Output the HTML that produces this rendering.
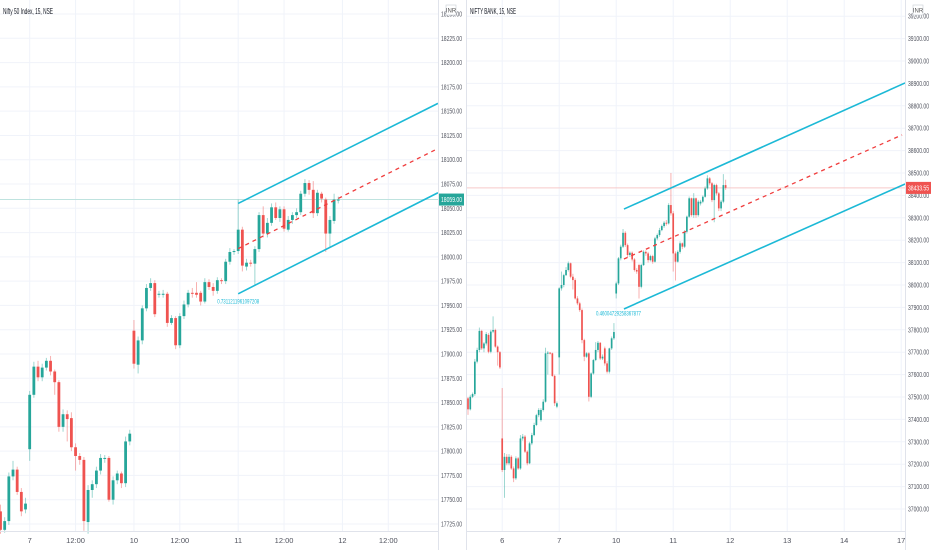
<!DOCTYPE html>
<html><head><meta charset="utf-8">
<style>
html,body{margin:0;padding:0;background:#fff;}
svg{display:block;font-family:"Liberation Sans Narrow","Liberation Sans",sans-serif;}
</style></head>
<body>
<svg id="c" width="932" height="550" viewBox="0 0 932 550" xmlns="http://www.w3.org/2000/svg">
<rect x="0" y="0" width="932" height="550" fill="#ffffff"/>
<g id="grid"></g>
<g id="marks"></g>
<g id="axes"></g>
<text x="3" y="14" font-size="8" fill="#131722" textLength="50" lengthAdjust="spacingAndGlyphs">Nifty 50 Index, 15, NSE</text>
<text x="470" y="14" font-size="8" fill="#131722" textLength="46" lengthAdjust="spacingAndGlyphs">NIFTY BANK, 15, NSE</text>
<g><rect x="446" y="5" width="10" height="10" fill="#fff" stroke="#c9ccd3" stroke-width="0.6"/><text x="451" y="12.5" font-size="6" text-anchor="middle" fill="#555">INR</text></g>
<g><rect x="913" y="5" width="10" height="10" fill="#fff" stroke="#c9ccd3" stroke-width="0.6"/><text x="918" y="12.5" font-size="6" text-anchor="middle" fill="#555">INR</text></g>
</svg>
<script>
// ---- Left chart: Nifty 50 ----
const leftOpens=[17738,17719,17728,17774,17781,17758,17740,17802,17858,17887,17876,17886,17893,17882,17871,17825,17838,17834,17804,17795,17791,17727,17760,17766,17780,17792,17793,17750,17770,17777,17767,17810,17924,17889,17914,17947,17968,17973,17961,17961,17962,17932,17937,17909,17939,17951,17963,17963,17963,17954,17974,17969,17965,17976,17975,17995,18005,18006,18028,17990,17994,17993,18008,18043,18024,18035,18051,18040,18049,18028,18038,18043,18046,18065,18076,18069,18045,18065,18059,18024,18037,18059];
const leftCloses=[17719,17728,17774,17781,17758,17738,17746,17858,17887,17876,17886,17893,17882,17871,17825,17838,17833,17804,17795,17791,17728,17760,17766,17780,17793,17793,17750,17770,17777,17767,17810,17818,17890,17914,17947,17968,17973,17941,17962,17962,17932,17937,17909,17939,17951,17963,17962,17961,17954,17974,17969,17965,17976,17975,17995,18005,18006,18028,17991,17994,17993,18008,18043,18024,18035,18051,18040,18049,18029,18038,18043,18046,18065,18076,18069,18045,18066,18060,18024,18038,18059,18059];
const leftHighs=[17745,17732,17778,17790,17784,17762,17752,17862,17892,17893,17890,17896,17898,17884,17873,17843,17842,17840,17808,17798,17794,17765,17770,17784,17797,17796,17795,17774,17780,17779,17815,17822,17935,17918,17950,17972,17978,17976,17965,17966,17964,17940,17939,17942,17955,17966,17968,17974,17965,17978,17977,17973,17979,17978,17998,18009,18008,18059,18031,17998,17997,18011,18046,18052,18040,18055,18056,18052,18052,18042,18046,18050,18068,18080,18079,18078,18069,18067,18061,18042,18065,18062];
const leftLows=[17715,17716,17724,17770,17755,17733,17736,17790,17855,17872,17872,17883,17878,17858,17820,17820,17810,17800,17780,17786,17718,17715,17752,17762,17776,17788,17748,17745,17766,17762,17763,17806,17885,17880,17910,17944,17965,17938,17958,17958,17928,17930,17905,17906,17936,17948,17958,17958,17950,17952,17966,17960,17962,17972,17972,17992,18002,18003,17985,17986,17990,17970,18005,18020,18020,18032,18038,18036,18026,18026,18034,18040,18043,18062,18064,18040,18042,18056,18005,18010,18034,18055];
const leftPriceTicks=[17725,17750,17775,17800,17825,17850,17875,17900,17925,17950,17975,18000,18025,18050,18075,18100,18125,18150,18175,18200,18225,18250];
const leftTimeLabels=["7","12:00","10","12:00","11","12:00","12","12:00"];
const leftTimeIdx=[7,18,32,43,57,68,82,93];
const leftLastPrice=18059;
const leftChannelIdx=[57,104.9];
const leftChannelUpper=[18055,18158];
const leftChannelLower=[17962,18066];
const leftChannelMid=[18008.5,18110];

// ---- Right chart: Nifty Bank ----
const rightOpens=[37494,37445,37501,37513,37658,37710,37795,37717,37739,37777,37702,37792,37799,37725,37700,37315,37174,37233,37204,37233,37181,37137,37226,37181,37315,37323,37256,37204,37293,37330,37375,37419,37397,37442,37479,37695,37698,37695,37594,37457,37677,37985,38000,38044,38067,38097,38037,38022,37940,37918,37888,37754,37680,37695,37501,37605,37665,37710,37742,37672,37717,37650,37613,37717,37762,37962,38007,38119,38171,38233,38178,38134,38144,38114,38067,38089,37992,38089,38148,38141,38111,38129,38104,38208,38223,38245,38263,38278,38275,38357,38320,38141,38104,38148,38186,38171,38238,38305,38387,38312,38387,38312,38364,38372,38394,38431,38476,38454,38379,38446,38409,38342,38372,38446];
const rightCloses=[37445,37501,37513,37658,37710,37795,37717,37739,37781,37702,37792,37799,37725,37700,37632,37174,37233,37204,37233,37181,37137,37226,37181,37315,37323,37256,37204,37293,37330,37375,37419,37442,37442,37479,37695,37698,37695,37594,37472,37472,37985,38000,38044,38067,38097,38037,38022,37940,37918,37888,37754,37680,37695,37501,37605,37665,37710,37742,37672,37680,37650,37613,37717,37762,37790,38007,38119,38171,38233,38178,38134,38144,38114,38067,38060,37992,38089,38148,38141,38111,38129,38104,38208,38223,38245,38263,38278,38275,38357,38320,38141,38104,38148,38186,38171,38238,38305,38387,38312,38387,38312,38372,38372,38394,38431,38476,38454,38379,38446,38409,38342,38372,38446,38434];
const rightHighs=[37500,37510,37520,37670,37720,37810,37800,37745,37790,37785,37800,37860,37805,37730,37705,37540,37250,37245,37245,37240,37190,37235,37232,37330,37335,37330,37262,37300,37340,37385,37425,37450,37450,37490,37720,37705,37700,37698,37600,37480,37990,38060,38050,38080,38105,38100,38050,38030,37950,37925,37895,37760,37700,37700,37610,37670,37745,37750,37745,37690,37725,37660,37720,37770,37830,38015,38125,38180,38250,38240,38185,38150,38150,38120,38075,38095,38095,38155,38155,38148,38135,38135,38215,38230,38255,38270,38285,38290,38365,38500,38330,38150,38155,38195,38190,38245,38310,38395,38390,38410,38390,38380,38380,38400,38440,38490,38482,38460,38452,38452,38415,38380,38495,38470];
const rightLows=[37420,37440,37495,37505,37650,37700,37710,37700,37730,37695,37695,37785,37720,37640,37625,37165,37050,37195,37195,37175,37120,37130,37175,37175,37305,37250,37195,37200,37285,37325,37370,37410,37390,37435,37475,37600,37690,37590,37460,37450,37600,37975,37990,38040,38060,38030,37980,37935,37910,37880,37740,37660,37675,37480,37495,37600,37660,37700,37665,37665,37640,37605,37605,37710,37755,37940,38000,38110,38165,38170,38125,38125,38105,38060,38050,37940,37985,38085,38130,38100,38105,38095,38100,38200,38215,38240,38255,38265,38270,38310,38060,38020,38100,38140,38160,38165,38230,38300,38305,38300,38300,38305,38355,38365,38390,38425,38445,38370,38280,38400,38330,38330,38365,38425];
const rightPriceTicks=[37000,37100,37200,37300,37400,37500,37600,37700,37800,37900,38000,38100,38200,38300,38400,38500,38600,38700,38800,38900,39000,39100,39200];
const rightTimeLabels=["6","7","10","11","12","13","14","17"];
const rightTimeIdx=[15,40,65,90,115,140,165,190];
const rightLastPrice=38433.55;
const rightChannelIdx=[68.4,191.7];
const rightChannelUpper=[38339,38902];
const rightChannelLower=[37893,38451];
const rightChannelMid=[38116,38670];

// ---- scales ----
const xL=i=>0.5+i*4.17, yL=p=>524-(p-17725)*0.9714;
const xR=i=>468+i*2.28, yR=p=>173+(38500-p)*0.224;
const NS="http://www.w3.org/2000/svg";
function mk(tag,attrs,parent){const e=document.createElementNS(NS,tag);for(const k in attrs)e.setAttribute(k,attrs[k]);parent.appendChild(e);return e;}
const grid=document.getElementById('grid'),marks=document.getElementById('marks'),axes=document.getElementById('axes');
const UP="#26a69a",DN="#ef5350";

function panel(side,o,h,l,c,xf,yf,x0,x1,bw,ticks,tLabels,tIdx,last,chIdx,chU,chL,chM,ratioText,ratioIdx,ratioPrice,ratioLen,lastColor,lastLine){
  ticks.forEach(p=>{const g=mk('line',{x1:x0,x2:x1,y1:yf(p),y2:yf(p),stroke:'#f0f3fa','stroke-width':1},grid);
    
    
    const t=mk('text',{x:x1+3,y:yf(p)+2.5,'font-size':7,fill:'#50535e',textLength:21,lengthAdjust:'spacingAndGlyphs'},axes);t.textContent=p.toFixed(2);
    
    });
  tIdx.forEach((ix,k)=>{const xx=xf(ix);if(xx>x1+1)return;const g=mk('line',{x1:xx,x2:xx,y1:0,y2:531,stroke:'#f0f3fa','stroke-width':1},grid);
    
    
    const t=mk('text',{x:xx,y:543,'font-size':7.5,fill:'#50535e','text-anchor':'middle'},axes);t.textContent=tLabels[k];
    
    });
  const ll=mk('line',{x1:x0,x2:x1,y1:yf(last),y2:yf(last),stroke:lastLine,'stroke-width':1},marks);
  
  
  o.forEach((op,i)=>{const cl=c[i],col=cl>=op?UP:DN,xx=xf(i);
    const w=mk('line',{x1:xx,x2:xx,y1:yf(h[i]),y2:yf(l[i]),stroke:col,'stroke-width':1,'stroke-opacity':0.45},marks);
    
    
    const top=yf(Math.max(op,cl)),ht=Math.max(1,Math.abs(yf(op)-yf(cl)));
    const b=mk('rect',{x:xx-bw/2,y:top,width:bw,height:ht,fill:col},marks);
    
    });
  [[chU,'upper'],[chL,'lower']].forEach(([arr,nm])=>{const ln=mk('line',{x1:xf(chIdx[0]),y1:yf(arr[0]),x2:xf(chIdx[1]),y2:yf(arr[1]),stroke:'#1cb9d6','stroke-width':1.6},marks);
    
    });
  const md=mk('line',{x1:xf(chIdx[0]),y1:yf(chM[0]),x2:xf(chIdx[1])-3,y2:yf(chM[1]),stroke:'#f03d3d','stroke-width':1.3,'stroke-dasharray':'4,4'},marks);
  
  
  const rt=mk('text',{x:xf(ratioIdx)-ratioLen/2,y:yf(ratioPrice),'font-size':6.5,fill:'#1cb9d6',textLength:ratioLen,lengthAdjust:'spacingAndGlyphs'},marks);rt.textContent=ratioText;
  
  
  const vb=mk('line',{x1:x1+0.5,x2:x1+0.5,y1:0,y2:550,stroke:'#e0e3eb','stroke-width':1},axes);
  
  
  const hb=mk('line',{x1:x0,x2:x1,y1:531.5,y2:531.5,stroke:'#e0e3eb','stroke-width':1},axes);
  
  
  const g=mk('g',{},axes);
  
  
  mk('rect',{x:x1+1,y:yf(last)-6,width:25,height:12,fill:lastColor},g);
  const tt=mk('text',{x:x1+3,y:yf(last)+2.5,'font-size':7,fill:'#fff',textLength:21,lengthAdjust:'spacingAndGlyphs'},g);tt.textContent=last.toFixed(2);
}
panel('left',leftOpens,leftHighs,leftLows,leftCloses,xL,yL,0,438,2.8,leftPriceTicks,leftTimeLabels,leftTimeIdx,leftLastPrice,leftChannelIdx,leftChannelUpper,leftChannelLower,leftChannelMid,'0.7311211961097208',57,17952,42,'#26a69a','#bfe3df');
panel('right',rightOpens,rightHighs,rightLows,rightCloses,xR,yR,467,905,1.7,rightPriceTicks,rightTimeLabels,rightTimeIdx,rightLastPrice,rightChannelIdx,rightChannelUpper,rightChannelLower,rightChannelMid,'0.46004729258367877',66,37864,45,'#ef5350','#f7c9c9');
const sepl=mk('line',{x1:466.5,x2:466.5,y1:0,y2:550,stroke:'#e0e3eb'},axes);


</script>
</body></html>
